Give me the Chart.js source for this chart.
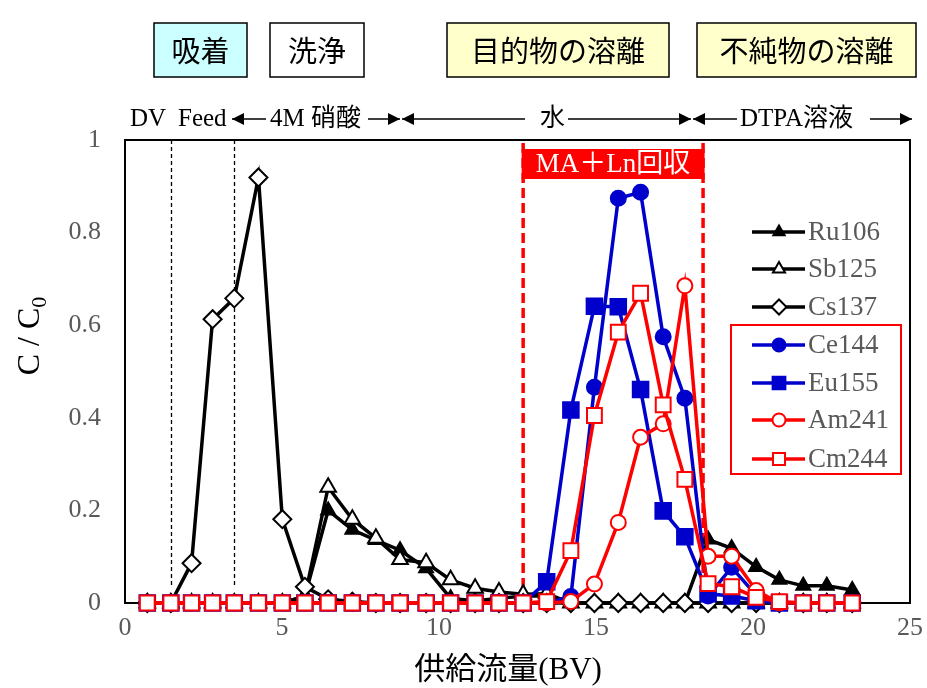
<!DOCTYPE html>
<html>
<head>
<meta charset="utf-8">
<script src="https://cdn.jsdelivr.net/npm/chart.js@4.4.0/dist/chart.umd.min.js"></script>
<style>
  body { margin: 0; background: #fff; }
  canvas { display: block; }
</style>
</head>
<body>
<canvas id="chart" width="927" height="688"></canvas>
<script>
// BV sampling points and C/C0 values
const bv = [0.71, 1.46, 2.12, 2.79, 3.48, 4.25, 5.01, 5.73, 6.47, 7.24, 7.99, 8.76, 9.59, 10.37, 11.15, 11.91,
  12.68, 13.43, 14.2, 14.95, 15.71, 16.42, 17.14, 17.83, 18.57, 19.32, 20.1, 20.84, 21.6, 22.35, 23.16]

const ru106 = [0, 0, 0, 0, 0, 0, 0, 0.015, 0.2, 0.158, 0.136, 0.114, 0.075, 0.01, 0.005, 0.01,
  0.015, 0.015, 0, 0, 0, 0, 0, 0, 0.137, 0.118, 0.078, 0.05, 0.037, 0.037, 0.028]
const sb125 = [0, 0, 0, 0, 0, 0, 0, 0.015, 0.25, 0.181, 0.14, 0.094, 0.087, 0.05, 0.032, 0.024,
  0.019, 0.02, 0, 0, 0, 0, 0, 0, 0, 0, 0, 0, 0, 0, 0]
const cs137 = [0, 0, 0.086, 0.613, 0.658, 0.919, 0.181, 0.035, 0.008, 0.003, 0, 0, 0, 0, 0, 0,
  0, 0, 0, 0, 0, 0, 0, 0, 0, 0, 0, 0, 0, 0, 0]
const ce144 = [0, 0, 0, 0, 0, 0, 0, 0, 0, 0, 0, 0, 0, 0, 0, 0,
  0, 0, 0.014, 0.466, 0.874, 0.887, 0.575, 0.442, 0.015, 0.077, 0.017, 0, 0, 0, 0]
const eu155 = [0, 0, 0, 0, 0, 0, 0, 0, 0, 0, 0, 0, 0, 0, 0, 0,
  0, 0.046, 0.417, 0.641, 0.64, 0.461, 0.199, 0.143, 0.02, 0.015, 0.005, 0, 0, 0, 0]
const am241 = [0, 0, 0, 0, 0, 0, 0, 0, 0, 0, 0, 0, 0, 0, 0, 0,
  0, 0, 0.003, 0.041, 0.174, 0.358, 0.387, 0.685, 0.101, 0.101, 0.027, 0, 0, 0, 0]
const cm244 = [0, 0, 0, 0, 0, 0, 0, 0, 0, 0, 0, 0, 0, 0, 0, 0,
  0, 0.003, 0.113, 0.405, 0.585, 0.669, 0.428, 0.267, 0.042, 0.035, 0.012, 0.003, 0, 0, 0]

const xTicks = [0, 5, 10, 15, 20, 25]
const yTicks = [0, 0.2, 0.4, 0.6, 0.8, 1]

// phase boundaries (BV)
const feedLines = [1.46, 3.48]
const recoveryRange = [12.68, 18.41]

const SERIF = '"Liberation Serif", "Noto Sans CJK JP", serif'
const CJK = '"Noto Sans CJK JP", sans-serif'
const BLACK = '#000000'
const BLUE = '#0000cc'
const RED = '#ff0000'

function points(values) {
  return values.map((v, i) => ({ x: bv[i], y: v }))
}

function series(label, values, color, style, radius, filled, order) {
  return {
    label: label,
    data: points(values),
    borderColor: color,
    borderWidth: 3.5,
    pointStyle: style,
    pointRadius: radius,
    pointHoverRadius: radius,
    pointBorderWidth: 2,
    pointBorderColor: color,
    pointBackgroundColor: filled ? color : '#ffffff',
    tension: 0,
    clip: false,
    order: order
  }
}

const datasets = [
  series('Ru106', ru106, BLACK, 'triangle', 8, true, 7),
  series('Sb125', sb125, BLACK, 'triangle', 9, false, 6),
  series('Cs137', cs137, BLACK, 'rectRot', 9, false, 5),
  series('Ce144', ce144, BLUE, 'circle', 7.5, true, 4),
  series('Eu155', eu155, BLUE, 'rect', 11, true, 3),
  series('Am241', am241, RED, 'circle', 7.5, false, 2),
  series('Cm244', cm244, RED, 'rect', 10.5, false, 1)
]

function arrow(ctx, x1, x2, y, dir) {
  ctx.beginPath()
  ctx.moveTo(x1, y)
  ctx.lineTo(x2, y)
  ctx.stroke()
  const hx = dir === 'left' ? x1 : x2
  const s = dir === 'left' ? 1 : -1
  ctx.beginPath()
  ctx.moveTo(hx, y)
  ctx.lineTo(hx + s * 12, y - 6)
  ctx.lineTo(hx + s * 12, y + 6)
  ctx.closePath()
  ctx.fill()
}

function marker(ctx, ds, x, y, radius) {
  ctx.fillStyle = ds.pointBackgroundColor
  ctx.strokeStyle = ds.pointBorderColor
  ctx.lineWidth = 2
  if (Chart.helpers && Chart.helpers.drawPoint) {
    Chart.helpers.drawPoint(ctx, { pointStyle: ds.pointStyle, radius: radius, rotation: 0, borderWidth: 2 }, x, y)
  }
}

const decorations = {
  id: 'decorations',
  beforeDatasetsDraw(chart) {
    const ctx = chart.ctx
    const a = chart.chartArea
    const xs = chart.scales.x
    ctx.save()

    // black dashed feed / wash boundaries
    ctx.strokeStyle = BLACK
    ctx.lineWidth = 1.3
    ctx.setLineDash([4, 3])
    feedLines.forEach((v) => {
      const px = Math.round(xs.getPixelForValue(v)) + 0.5
      ctx.beginPath()
      ctx.moveTo(px, a.top)
      ctx.lineTo(px, a.bottom - 18)
      ctx.stroke()
    })

    // red recovery window
    const r1 = xs.getPixelForValue(recoveryRange[0])
    const r2 = xs.getPixelForValue(recoveryRange[1])
    ctx.strokeStyle = RED
    ctx.lineWidth = 3.5
    ctx.setLineDash([10, 5])
    ;[r1, r2].forEach((px) => {
      ctx.beginPath()
      ctx.moveTo(px, a.top + 3)
      ctx.lineTo(px, a.bottom)
      ctx.stroke()
    })
    ctx.setLineDash([])
    ctx.fillStyle = RED
    ctx.fillRect(r1 - 1.5, a.top + 9, r2 - r1 + 3, 30)
    ctx.fillStyle = '#ffffff'
    ctx.font = '27px ' + SERIF
    ctx.textAlign = 'center'
    ctx.textBaseline = 'middle'
    ctx.fillText('MA＋Ln回収', (r1 + r2) / 2, a.top + 25)

    // plot frame
    ctx.strokeStyle = BLACK
    ctx.lineWidth = 2
    ctx.strokeRect(a.left, a.top, a.right - a.left, a.bottom - a.top)
    ctx.restore()
  },
  afterDraw(chart) {
    const ctx = chart.ctx
    ctx.save()

    // phase boxes
    const boxes = [
      ['吸着', 154, 247, '#ccffff'],
      ['洗浄', 270, 364, '#ffffff'],
      ['目的物の溶離', 447, 669, '#ffffcc'],
      ['不純物の溶離', 697, 916, '#ffffcc']
    ]
    ctx.lineWidth = 1.5
    ctx.strokeStyle = BLACK
    ctx.font = '29px ' + CJK
    ctx.textAlign = 'center'
    ctx.textBaseline = 'middle'
    boxes.forEach(([t, x1, x2, fill]) => {
      ctx.fillStyle = fill
      ctx.fillRect(x1, 23, x2 - x1, 54)
      ctx.strokeRect(x1, 23, x2 - x1, 54)
      ctx.fillStyle = BLACK
      ctx.fillText(t, (x1 + x2) / 2, 51)
    })

    // eluent row
    ctx.font = '25px ' + SERIF
    ctx.textAlign = 'left'
    ctx.fillStyle = BLACK
    ;[['DV', 130], ['Feed', 178], ['4M 硝酸', 270], ['水', 540], ['DTPA溶液', 740]].forEach(([t, x]) => {
      ctx.fillText(t, x, 119)
    })
    ctx.lineWidth = 1.5
    ;[[232, 266, 'left'], [368, 400, 'right'], [402, 525, 'left'], [568, 691, 'right'],
      [693, 737, 'left'], [870, 912, 'right']].forEach(([x1, x2, d]) => arrow(ctx, x1, x2, 119, d))

    // legend
    const rows = [232, 269, 307, 345, 383, 420, 459]
    const legendRadius = [6.5, 7, 7.5, 6.5, 9, 6.5, 8.5]
    chart.data.datasets.forEach((ds, i) => {
      const y = rows[i]
      ctx.strokeStyle = ds.borderColor
      ctx.lineWidth = 3.5
      ctx.beginPath()
      ctx.moveTo(752, y)
      ctx.lineTo(805, y)
      ctx.stroke()
      marker(ctx, ds, 779, y, legendRadius[i])
      ctx.fillStyle = '#595959'
      ctx.font = '27px ' + SERIF
      ctx.textAlign = 'left'
      ctx.textBaseline = 'middle'
      ctx.fillText(ds.label, 808, y + 1)
    })
    ctx.strokeStyle = RED
    ctx.lineWidth = 2
    ctx.strokeRect(731, 325, 170, 149)

    // axis titles
    ctx.fillStyle = BLACK
    ctx.textBaseline = 'alphabetic'
    ctx.font = '31px ' + SERIF
    ctx.textAlign = 'center'
    ctx.fillText('供給流量(BV)', 508, 679)

    ctx.translate(39, 336)
    ctx.rotate(-Math.PI / 2)
    ctx.font = '32px ' + SERIF
    const main = 'C / C'
    const w1 = ctx.measureText(main).width
    ctx.font = '22px ' + SERIF
    const w2 = ctx.measureText('0').width
    const start = -(w1 + w2) / 2
    ctx.font = '32px ' + SERIF
    ctx.textAlign = 'left'
    ctx.fillText(main, start, 0)
    ctx.font = '22px ' + SERIF
    ctx.fillText('0', start + w1, 7)
    ctx.restore()
  }
}

new Chart(document.getElementById('chart'), {
  type: 'line',
  data: { datasets: datasets },
  options: {
    responsive: false,
    animation: false,
    devicePixelRatio: 1,
    layout: { padding: { left: 0, top: 140, right: 17, bottom: 0 } },
    plugins: { legend: { display: false }, tooltip: { enabled: false } },
    scales: {
      x: {
        type: 'linear',
        min: 0,
        max: 25,
        afterFit: (s) => { s.height = 85; s.paddingRight = 0; s.paddingLeft = 0 },
        afterBuildTicks: (s) => { s.ticks = xTicks.map((v) => ({ value: v })) },
        grid: { display: false, drawTicks: false },
        border: { display: false },
        ticks: { color: '#595959', font: { family: SERIF, size: 26 }, padding: 10, maxRotation: 0 }
      },
      y: {
        min: 0,
        max: 1,
        afterFit: (s) => { s.width = 125; s.paddingTop = 0; s.paddingBottom = 0 },
        afterBuildTicks: (s) => { s.ticks = yTicks.map((v) => ({ value: v })) },
        grid: { display: false, drawTicks: false },
        border: { display: false },
        ticks: {
          color: '#595959',
          font: { family: SERIF, size: 26 },
          padding: 24,
          callback: (v) => String(v)
        }
      }
    }
  },
  plugins: [decorations]
})
</script>
</body>
</html>
